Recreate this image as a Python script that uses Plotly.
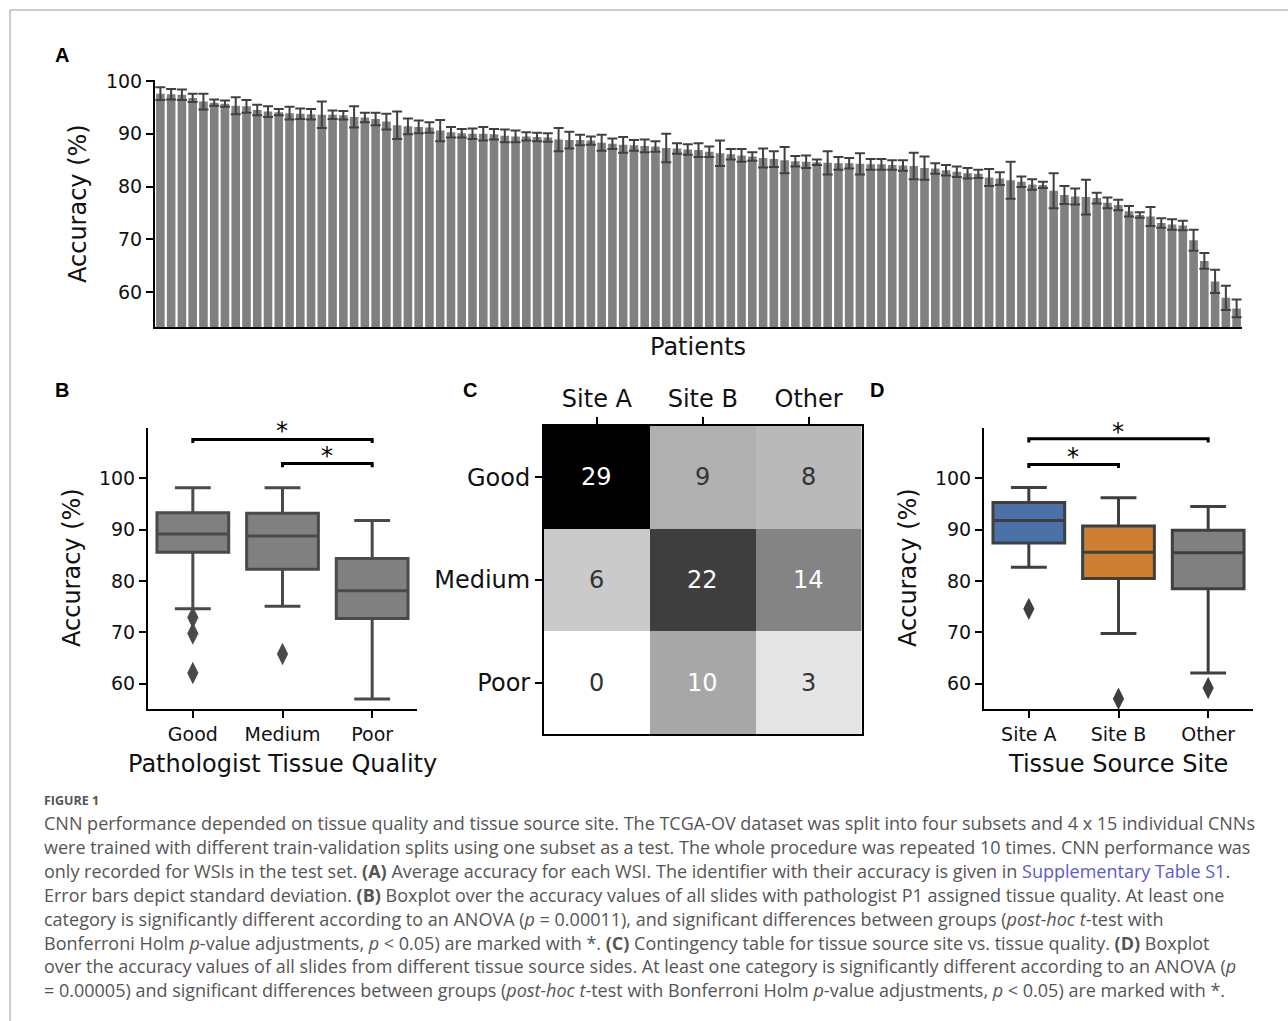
import plotly.graph_objects as go

W, H = 1288, 1021

# ---------------- data ----------------
patient_acc = [97.6, 97.5, 97.4, 96.8, 96.1, 95.9, 95.7, 95.3, 95.2, 94.5,
               94.2, 94.1, 93.9, 93.8, 93.7, 93.6, 93.6, 93.5, 93.2, 93.1,
               92.8, 92.3, 91.6, 91.4, 91.3, 91.2, 90.6, 90.3, 90.1, 90.0,
               90.0, 89.9, 89.6, 89.5, 89.5, 89.4, 89.3, 88.9, 88.8, 88.8,
               88.7, 88.3, 88.1, 87.9, 87.8, 87.7, 87.6, 87.3, 87.2, 87.0,
               86.9, 86.6, 86.3, 86.1, 85.9, 85.7, 85.4, 85.2, 85.0, 84.8,
               84.7, 84.6, 84.5, 84.4, 84.4, 84.3, 84.2, 84.2, 84.1, 84.0,
               83.9, 83.5, 83.4, 83.1, 82.8, 82.5, 82.4, 81.7, 81.5, 81.2,
               80.9, 80.4, 80.3, 79.2, 78.4, 78.1, 78.0, 77.8, 76.9, 76.5,
               75.3, 74.6, 74.3, 73.1, 72.8, 72.6, 69.8, 65.9, 62.0, 58.9,
               56.9]
patient_std = [1.2, 1.0, 1.0, 0.8, 1.5, 0.6, 0.6, 1.6, 1.2, 1.0,
               1.0, 0.6, 1.2, 1.0, 1.0, 2.5, 0.8, 0.8, 2.0, 0.9,
               1.2, 1.5, 2.6, 1.5, 1.2, 1.0, 2.0, 1.0, 0.8, 1.0,
               1.3, 1.0, 1.2, 1.1, 0.8, 0.8, 0.8, 2.2, 1.6, 1.0,
               0.8, 1.5, 1.0, 1.5, 1.0, 1.2, 1.0, 2.7, 1.0, 1.0,
               1.3, 1.0, 2.4, 1.0, 1.2, 0.8, 1.8, 1.5, 2.5, 1.0,
               1.2, 0.5, 2.2, 1.2, 1.0, 2.0, 1.0, 1.0, 0.9, 1.0,
               2.5, 2.2, 1.0, 1.0, 1.0, 1.0, 0.8, 1.6, 1.2, 3.5,
               1.0, 1.0, 0.6, 3.3, 1.7, 1.5, 3.3, 1.0, 1.0, 1.0,
               1.0, 0.5, 1.8, 0.9, 1.0, 0.9, 2.0, 1.5, 2.2, 2.3,
               1.7]

quality_labels = ["Good", "Medium", "Poor"]
quality_q1 = [85.6, 82.3, 72.7]
quality_median = [89.2, 88.8, 78.1]
quality_q3 = [93.3, 93.2, 84.4]
quality_low = [74.6, 75.1, 57.0]
quality_high = [98.2, 98.2, 91.8]
quality_outliers = [[72.9, 69.8, 62.1], [65.8], []]

site_labels = ["Site A", "Site B", "Other"]
site_q1 = [87.4, 80.5, 78.5]
site_median = [91.8, 85.6, 85.5]
site_q3 = [95.3, 90.7, 89.9]
site_low = [82.7, 69.8, 62.1]
site_high = [98.2, 96.2, 94.5]
site_outliers = [[74.6], [57.1], [59.2]]
site_colors = ["#4a72a8", "#cd8032", "#808080"]

contingency = [[29, 9, 8],
               [6, 22, 14],
               [0, 10, 3]]

# ---------------- helpers ----------------
def px(x):
    return x / W

def py(y):
    return 1 - y / H

TICKFONT = dict(family="DejaVu Sans", size=19, color="#111")
TITLEFONT = dict(family="DejaVu Sans", size=24, color="#111")
LINE = "#404040"

fig = go.Figure()

# ---------------- Panel A ----------------
fig.add_trace(go.Bar(
    x=list(range(len(patient_acc))), y=patient_acc,
    marker=dict(color="#808080", line=dict(width=0)),
    error_y=dict(type="data", array=patient_std, color=LINE, thickness=2, width=5),
    xaxis="x", yaxis="y", showlegend=False, hoverinfo="y"))

# ---------------- Panel B ----------------
for i, lab in enumerate(quality_labels):
    fig.add_trace(go.Box(
        x=[i], q1=[quality_q1[i]], median=[quality_median[i]], q3=[quality_q3[i]],
        lowerfence=[quality_low[i]], upperfence=[quality_high[i]],
        fillcolor="#808080", line=dict(color="#4a4a4a", width=3),
        width=0.8, whiskerwidth=0.5, boxpoints=False,
        xaxis="x2", yaxis="y2", showlegend=False, name=lab))
    if quality_outliers[i]:
        fig.add_trace(go.Scatter(
            x=[i] * len(quality_outliers[i]), y=quality_outliers[i], mode="markers",
            marker=dict(symbol="diamond-tall", size=16, color="#4a4a4a"),
            xaxis="x2", yaxis="y2", showlegend=False))

# brackets B
fig.add_trace(go.Scatter(x=[0, 0, 2, 2], y=[106.9, 107.6, 107.6, 106.9], mode="lines",
                         line=dict(color="black", width=3), xaxis="x2", yaxis="y2", showlegend=False))
fig.add_trace(go.Scatter(x=[1, 1, 2, 2], y=[102.2, 102.9, 102.9, 102.2], mode="lines",
                         line=dict(color="black", width=3), xaxis="x2", yaxis="y2", showlegend=False))

# ---------------- Panel C ----------------
fig.add_trace(go.Heatmap(
    z=contingency, x=[0, 1, 2], y=[0, 1, 2], zmin=0, zmax=29,
    colorscale=[[0, "#ffffff"], [1, "#000000"]], showscale=False,
    xaxis="x3", yaxis="y3", hoverinfo="z"))

# ---------------- Panel D ----------------
for i, lab in enumerate(site_labels):
    fig.add_trace(go.Box(
        x=[i], q1=[site_q1[i]], median=[site_median[i]], q3=[site_q3[i]],
        lowerfence=[site_low[i]], upperfence=[site_high[i]],
        fillcolor=site_colors[i], line=dict(color="#3f3f3f", width=3),
        width=0.8, whiskerwidth=0.5, boxpoints=False,
        xaxis="x4", yaxis="y4", showlegend=False, name=lab))
    if site_outliers[i]:
        fig.add_trace(go.Scatter(
            x=[i] * len(site_outliers[i]), y=site_outliers[i], mode="markers",
            marker=dict(symbol="diamond-tall", size=16, color="#3f3f3f"),
            xaxis="x4", yaxis="y4", showlegend=False))

fig.add_trace(go.Scatter(x=[0, 0, 2, 2], y=[107.0, 107.7, 107.7, 107.0], mode="lines",
                         line=dict(color="black", width=3), xaxis="x4", yaxis="y4", showlegend=False))
fig.add_trace(go.Scatter(x=[0, 0, 1, 1], y=[102.0, 102.7, 102.7, 102.0], mode="lines",
                         line=dict(color="black", width=3), xaxis="x4", yaxis="y4", showlegend=False))

# ---------------- axes ----------------
axis_common = dict(showgrid=False, zeroline=False, showline=True, linecolor="black",
                   linewidth=2, ticks="outside", ticklen=7, tickwidth=1.5,
                   tickcolor="black", tickfont=TICKFONT)

fig.update_layout(
    width=W, height=H, margin=dict(l=0, r=0, t=0, b=0, pad=0, autoexpand=False),
    paper_bgcolor="white", plot_bgcolor="white", bargap=0.2, boxmode="overlay",
    xaxis=dict(domain=[px(155), px(1242)], range=[-0.5, len(patient_acc) - 0.5],
               showgrid=False, zeroline=False, showline=True, linecolor="black",
               linewidth=2, showticklabels=False, ticks="", anchor="y"),
    yaxis=dict(domain=[py(327), py(80)], range=[53.37, 100.19], tickvals=[60, 70, 80, 90, 100],
               anchor="x", **axis_common),
    xaxis2=dict(domain=[px(148), px(417)], range=[-0.5, 2.5], tickvals=[0, 1, 2],
                ticktext=quality_labels, anchor="y2", **axis_common),
    yaxis2=dict(domain=[py(709), py(428)], range=[55.07, 109.84], tickvals=[60, 70, 80, 90, 100],
                anchor="x2", **axis_common),
    xaxis3=dict(domain=[px(544), px(861.5)], range=[-0.5, 2.5], tickvals=[0, 1, 2],
                ticktext=site_labels, side="top", anchor="y3", mirror=True,
                **{**axis_common, "tickfont": TITLEFONT}),
    yaxis3=dict(domain=[py(734), py(426)], range=[2.5, -0.5], tickvals=[0, 1, 2],
                ticktext=quality_labels, anchor="x3", mirror=True,
                **{**axis_common, "tickfont": TITLEFONT}),
    xaxis4=dict(domain=[px(984), px(1253)], range=[-0.5, 2.5], tickvals=[0, 1, 2],
                ticktext=site_labels, anchor="y4", **axis_common),
    yaxis4=dict(domain=[py(709), py(428)], range=[55.1, 109.8], tickvals=[60, 70, 80, 90, 100],
                anchor="x4", **axis_common),
)

# ---------------- annotations ----------------
ann = []

def text(x, y, s, font, xanchor="center", yanchor="middle", angle=0):
    ann.append(dict(x=px(x), y=py(y), xref="paper", yref="paper", text=s, showarrow=False,
                    font=font, xanchor=xanchor, yanchor=yanchor, textangle=angle))

LETTER = dict(family="Liberation Sans", size=20, color="black")
text(62, 55, "<b>A</b>", LETTER)
text(62, 390, "<b>B</b>", LETTER)
text(470, 390, "<b>C</b>", LETTER)
text(877, 390, "<b>D</b>", LETTER)

text(78, 204, "Accuracy (%)", TITLEFONT, angle=-90)
text(698, 347, "Patients", TITLEFONT)
text(72, 568, "Accuracy (%)", TITLEFONT, angle=-90)
text(282, 764, "Pathologist Tissue Quality", TITLEFONT)
text(908, 568, "Accuracy (%)", TITLEFONT, angle=-90)
text(1118, 764, "Tissue Source Site", TITLEFONT)

# significance stars
STAR = dict(family="DejaVu Sans", size=24, color="black")
text(282, 431, "*", STAR)
text(327, 456, "*", STAR)
text(1118, 432, "*", STAR)
text(1073, 457, "*", STAR)

# heatmap cell numbers
for r in range(3):
    for c in range(3):
        v = contingency[r][c]
        col = "white" if v >= 10 else "#333333"
        ann.append(dict(x=c, y=r, xref="x3", yref="y3", text=str(v), showarrow=False,
                        font=dict(family="DejaVu Sans", size=24, color=col)))

# caption
CAP = dict(family="Open Sans", size=18, color="#555555")
text(42, 800, "<b>FIGURE 1</b>", dict(family="Open Sans", size=12.5, color="#555555"), xanchor="left")
cap_lines = [
    "CNN performance depended on tissue quality and tissue source site. The TCGA-OV dataset was split into four subsets and 4 x 15 individual CNNs",
    "were trained with different train-validation splits using one subset as a test. The whole procedure was repeated 10 times. CNN performance was",
    "only recorded for WSIs in the test set. <b>(A)</b> Average accuracy for each WSI. The identifier with their accuracy is given in <span style='color:#5a5ac8'>Supplementary Table S1</span>.",
    "Error bars depict standard deviation. <b>(B)</b> Boxplot over the accuracy values of all slides with pathologist P1 assigned tissue quality. At least one",
    "category is significantly different according to an ANOVA (<i>p</i> = 0.00011), and significant differences between groups (<i>post-hoc t</i>-test with",
    "Bonferroni Holm <i>p</i>-value adjustments, <i>p</i> &lt; 0.05) are marked with *. <b>(C)</b> Contingency table for tissue source site vs. tissue quality. <b>(D)</b> Boxplot",
    "over the accuracy values of all slides from different tissue source sides. At least one category is significantly different according to an ANOVA (<i>p</i>",
    "= 0.00005) and significant differences between groups (<i>post-hoc t</i>-test with Bonferroni Holm <i>p</i>-value adjustments, <i>p</i> &lt; 0.05) are marked with *.",
]
for k, line in enumerate(cap_lines):
    text(42, 823 + 23.9 * k, line, CAP, xanchor="left")

fig.update_layout(annotations=ann)

# frame
fig.add_shape(type="rect", xref="paper", yref="paper", x0=px(10), y0=py(1030), x1=px(1300), y1=py(10),
              line=dict(color="#999999", width=1), layer="below")

fig.write_html("out.html", config={"displayModeBar": False},
               post_script="document.body.style.margin='0';document.body.style.overflow='hidden';")
